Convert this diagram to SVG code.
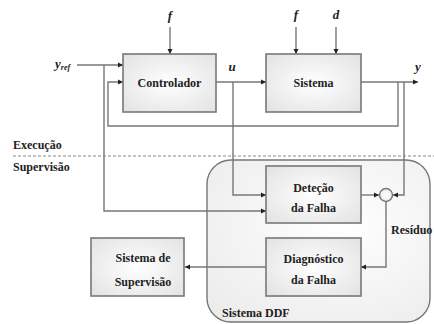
<svg xmlns="http://www.w3.org/2000/svg" width="434" height="324" viewBox="0 0 434 324">
<defs>
<radialGradient id="bg" cx="0.5" cy="0.5" r="0.7">
<stop offset="0" stop-color="#ffffff"/>
<stop offset="1" stop-color="#e2e2e2"/>
</radialGradient>
<radialGradient id="ddf" cx="0.6" cy="0.4" r="0.8">
<stop offset="0" stop-color="#ffffff"/>
<stop offset="1" stop-color="#ebebeb"/>
</radialGradient>
<marker id="ah" markerWidth="6" markerHeight="6" refX="5" refY="3" orient="auto" markerUnits="userSpaceOnUse">
<path d="M0,0.5 L5,3 L0,5.5 Z" fill="#222"/>
</marker>
</defs>
<style>
.box{fill:url(#bg);stroke:#777;stroke-width:1.6}
.ln{fill:none;stroke:#777;stroke-width:1.4}
text{font-family:'Liberation Serif','Times New Roman','DejaVu Serif',serif;font-weight:bold;fill:#222}
.t{font-size:12px;text-anchor:middle}
.tl{font-size:12px}
.it{font-style:italic;font-size:13px;text-anchor:middle}
</style>
<rect width="434" height="324" fill="#ffffff"/>
<g id="ddf-system">
<rect x="207" y="160" width="223" height="162" rx="24" fill="url(#ddf)" stroke="#777" stroke-width="1.4"/>
<text class="tl" x="222" y="317">Sistema DDF</text>
</g>
<g id="layers">
<line x1="13" y1="156" x2="434" y2="156" stroke="#888" stroke-width="1.2" stroke-dasharray="3,2"/>
<text class="tl" x="13" y="149">Execução</text>
<text class="tl" x="13" y="171">Supervisão</text>
</g>
<g id="connectors">
<path class="ln" d="M77,65 H123" marker-end="url(#ah)"/>
<path class="ln" d="M104,65 V211 H266" marker-end="url(#ah)"/>
<path class="ln" d="M398,82 V126 H108 V82 H123" marker-end="url(#ah)"/>
<path class="ln" d="M170,27 V54" marker-end="url(#ah)"/>
<path class="ln" d="M296,27 V54" marker-end="url(#ah)"/>
<path class="ln" d="M336,27 V54" marker-end="url(#ah)"/>
<path class="ln" d="M216,82 H266" marker-end="url(#ah)"/>
<path class="ln" d="M233,82 V195 H266" marker-end="url(#ah)"/>
<path class="ln" d="M361,82 H418" marker-end="url(#ah)"/>
<path class="ln" d="M404,82 V195 H393" marker-end="url(#ah)"/>
<path class="ln" d="M361,195 H379" marker-end="url(#ah)"/>
<path class="ln" d="M386,202 V267 H361" marker-end="url(#ah)"/>
<path class="ln" d="M266,267 H185" marker-end="url(#ah)"/>
</g>
<g id="labels">
<text class="it" x="170" y="20">f</text>
<text class="it" x="296" y="19">f</text>
<text class="it" x="336" y="19">d</text>
<text class="it" x="232" y="71">u</text>
<text class="it" x="418" y="71">y</text>
<text class="it" x="55" y="68" style="text-anchor:start">y<tspan font-size="8" dy="2">ref</tspan></text>
<text class="tl" x="391" y="234" font-size="10.5">Resíduo</text>
</g>
<g id="controlador">
<rect class="box" x="123" y="54" width="93" height="58"/>
<text class="t" x="169.5" y="87">Controlador</text>
</g>
<g id="sistema">
<rect class="box" x="266" y="54" width="95" height="58"/>
<text class="t" x="313.5" y="87">Sistema</text>
</g>
<g id="deteccao">
<rect class="box" x="266" y="166" width="95" height="57"/>
<text class="t" x="313.5" y="192">Deteção</text>
<text class="t" x="313.5" y="212">da Falha</text>
</g>
<g id="diagnostico">
<rect class="box" x="266" y="238" width="95" height="58"/>
<text class="t" x="313.5" y="263">Diagnóstico</text>
<text class="t" x="313.5" y="284">da Falha</text>
</g>
<g id="supervisao">
<rect class="box" x="91" y="238" width="93" height="58"/>
<text class="t" x="143" y="262">Sistema de</text>
<text class="t" x="143" y="286">Supervisão</text>
</g>
<g id="soma">
<circle cx="386" cy="195" r="6.5" fill="url(#bg)" stroke="#777" stroke-width="1.4"/>
</g>
</svg>
